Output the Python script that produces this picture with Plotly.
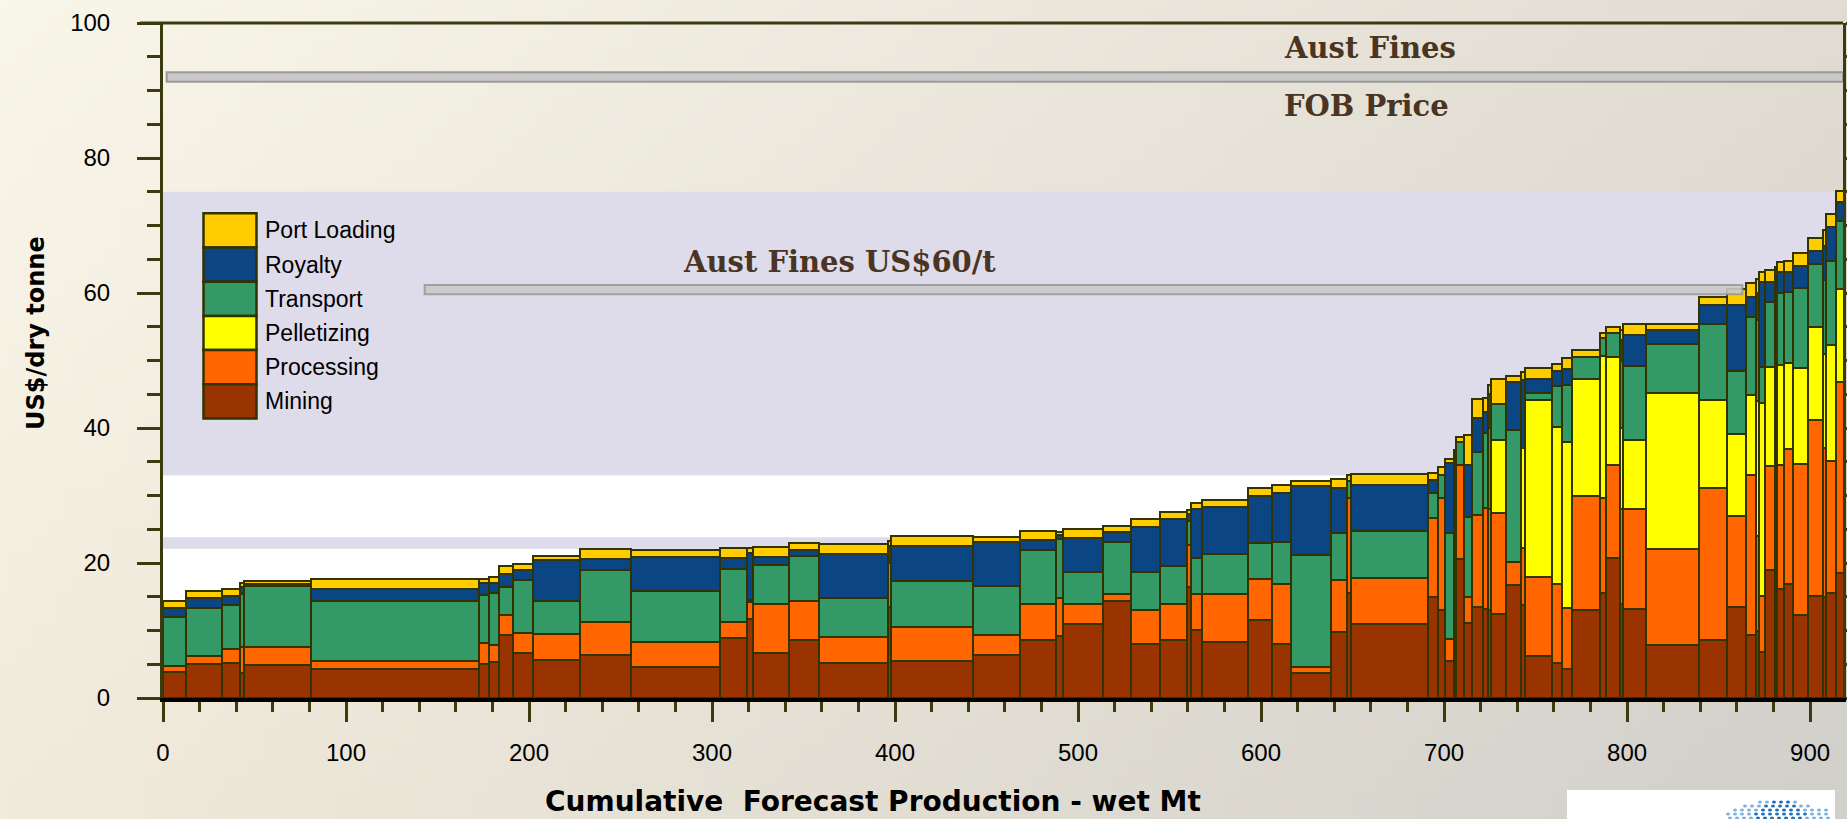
import base64
import struct
import zlib

import numpy as np
import plotly.graph_objects as go

# ---------------- data ----------------
production = [12.7, 19.5, 9.6, 2.6, 36.7, 91.4, 5.5, 5.4, 7.6, 11.2,
              25.4, 27.9, 49.1, 14.6, 3.1, 19.6, 16.5, 37.7, 1.9, 44.7,
              25.4, 20.0, 3.6, 21.9, 15.1, 15.9, 15.1, 2.2, 6.0, 24.9,
              13.4, 10.0, 21.8, 9.2, 1.8, 42.3, 5.2, 3.8, 5.1, 1.4,
              4.0, 4.6, 6.0, 2.5, 1.5, 8.2, 8.2, 2.7, 14.6, 5.5,
              5.4, 15.0, 3.6, 7.8, 1.5, 12.2, 29.1, 15.5, 10.4, 5.1,
              1.8, 3.3, 5.3, 1.4, 3.7, 4.9, 8.2, 8.4, 1.6, 5.5, 4.2]

mining = [3.8, 5.0, 5.2, 3.75, 4.9, 4.25, 5.0, 5.4, 9.3, 6.7,
          5.6, 6.4, 4.55, 8.85, 11.65, 6.7, 8.6, 5.2, 13.5, 5.5,
          6.3, 8.6, 9.2, 10.9, 14.3, 7.95, 8.6, 16.5, 10.1, 8.35,
          11.55, 7.95, 3.65, 9.75, 15.5, 10.9, 14.9, 13.0, 5.5, 20.0,
          20.55, 11.15, 13.53, 13.14, 13.0, 12.44, 16.74, 13.8, 6.23, 5.14,
          4.25, 13.04, 15.5, 20.7, 14.0, 13.25, 7.79, 8.57, 13.51, 9.35,
          10.0, 6.75, 18.97, 10.0, 16.11, 16.89, 12.3, 15.17, 15.0, 15.59, 18.45]

processing = [1.0, 1.2, 2.0, 3.85, 2.7, 1.25, 3.2, 2.4, 3.0, 3.0,
              3.9, 4.9, 3.7, 2.45, 2.6, 7.2, 5.8, 3.8, 6.5, 5.0,
              3.05, 5.4, 5.6, 3.1, 1.1, 5.15, 5.4, 6.2, 5.3, 7.0,
              6.05, 8.95, 0.9, 7.75, 14.1, 6.9, 11.7, 16.7, 3.2, 14.0,
              13.95, 3.85, 13.57, 14.96, 15.0, 14.93, 3.46, 8.4, 11.76, 11.76,
              9.14, 16.84, 14.1, 13.8, 14.0, 14.81, 14.3, 22.61, 13.51, 23.65,
              14.0, 8.32, 15.33, 20.0, 18.45, 20.01, 22.36, 25.99, 22.0, 19.49, 28.33]

pelletizing = [None] * 45 + [10.83, None, 14.8, 26.16, 23.2,
                             24.6, 17.32, 21.07, 16.07, 12.0, 10.14, 23.11, 12.99, 12.11, 11.96,
                             20.0, 28.59, 14.71, 18.0, 14.81, 12.73, 14.2, 13.77, 14.0, 17.15, 13.77]

transport = [7.2, 7.2, 6.6, 7.8, 9.0, 8.9, 7.1, 7.8, 4.2, 7.8,
             4.9, 7.65, 7.6, 7.8, 0.25, 5.8, 6.6, 5.8, None, 6.85,
             7.3, 7.9, 8.8, 4.6, 7.75, 5.6, 5.6, 3.5, 5.35, 6.05,
             5.4, 6.25, 16.65, 6.9, 2.5, 7.0, 3.7, 3.3, 15.8, 2.0,
             3.5, 11.86, 9.4, 11.1, 12.0, 5.35, 19.5, None, 0.99, 6.1,
             8.39, 3.27, 2.61, 3.45, 10.0, 11.02, 7.19, 11.18, 9.36, 11.43,
             12.0, 5.44, 9.72, 10.0, 10.66, 10.5, 11.95, 9.36, 11.0, 12.58, 10.13]

royalty = [1.4, 1.4, 1.35, 1.0, 0.25, 1.7, 1.7, 1.5, 1.9, 1.5,
           6.0, 1.6, 5.05, 1.7, 7.0, 1.15, 1.0, 6.5, 2.5, 5.2,
           6.5, 1.5, 0.5, 5.1, 1.5, 6.6, 6.9, 1.0, 7.25, 6.85,
           6.9, 7.25, 10.2, 6.75, None, 6.75, 2.0, 0.1, 10.27, None,
           None, 7.64, 4.94, 3.2, 5.0, None, 7.16, 10.1, 2.06, 2.3,
           2.32, None, None, None, 3.0, 4.57, 2.18, 2.86, 9.72, 3.0,
           4.0, 12.6, 2.97, 4.0, 3.01, 3.02, 3.12, 1.98, 5.0, 4.99, 2.76]

port_loading = [0.9, 1.0, 0.95, 0.6, 0.45, 1.6, 0.6, 0.9, 1.1, 0.9,
                0.6, 1.5, 1.1, 1.4, 0.7, 1.55, 0.9, 1.5, 0.8, 1.5,
                0.75, 1.4, 0.5, 1.4, 0.9, 1.2, 1.0, 0.7, 0.9, 1.05,
                1.15, 1.15, 0.75, 1.25, 0.9, 1.6, 1.1, 1.05, 0.58, 0.7,
                0.7, 4.46, 2.81, 2.0, 1.4, 3.65, 0.89, 1.25, 1.64, 0.93,
                1.63, 1.09, 0.84, 1.0, 1.5, 1.56, 0.78, 1.19, 2.4, 2.1,
                2.1, 1.45, 1.71, 1.9, 1.56, 1.66, 2.07, 1.82, 2.4, 1.92, 1.66]

series_names = ["Mining", "Processing", "Pelletizing", "Transport", "Royalty", "Port Loading"]
series_colors = ["#993300", "#FF6600", "#FFFF00", "#339966", "#0B4584", "#FFCC00"]

x_tick_values = list(range(0, 1000, 100))
y_tick_values = list(range(0, 120, 20))

fob_price = 92.0          # Aust Fines FOB price line
fines_price = 60.5        # Aust Fines US$60/t line
band_upper = (33.0, 75.0)
band_lower = (22.1, 23.8)
x_max = 918.0

# ---------------- helpers ----------------
W, H = 1847, 819
L, R, T, B = 163, 1843, 23, 698


def px(X):
    return (X - L) / (R - L)


def py(Y):
    return (B - Y) / (B - T)


def gradient_png(w, h, tl, tr, bl, br):
    tl, tr, bl, br = [np.array(c, dtype=float) for c in (tl, tr, bl, br)]
    u = np.linspace(0, 1, w)[None, :, None]
    v = np.linspace(0, 1, h)[:, None, None]
    img = (tl * (1 - u) * (1 - v) + tr * u * (1 - v) + bl * (1 - u) * v + br * u * v)
    img = np.clip(img, 0, 255).astype(np.uint8)
    raw = b"".join(b"\x00" + img[j].tobytes() for j in range(h))

    def chunk(tag, data):
        c = struct.pack(">I", len(data)) + tag + data
        return c + struct.pack(">I", zlib.crc32(tag + data) & 0xffffffff)

    png = b"\x89PNG\r\n\x1a\n"
    png += chunk(b"IHDR", struct.pack(">IIBBBBB", w, h, 8, 2, 0, 0, 0))
    png += chunk(b"IDAT", zlib.compress(raw, 9))
    png += chunk(b"IEND", b"")
    return "data:image/png;base64," + base64.b64encode(png).decode()


# ---------------- bars ----------------
edges = np.concatenate([[0.0], np.cumsum(production)])
centers = (edges[:-1] + edges[1:]) / 2.0
widths = np.array(production)

series_values = [mining, processing, pelletizing, transport, royalty, port_loading]

fig = go.Figure()
for name, vals, color in zip(series_names, series_values, series_colors):
    fig.add_trace(go.Bar(
        x=centers, y=vals, width=widths, name=name,
        marker=dict(color=color, line=dict(color="#333300", width=2.5)),
        showlegend=False,
    ))

# ---------------- shapes ----------------
shapes = []
shapes.append(dict(type="rect", xref="x", yref="y", x0=0, x1=x_max, y0=0, y1=band_upper[0],
                   fillcolor="white", line=dict(width=0), layer="below"))
shapes.append(dict(type="rect", xref="x", yref="y", x0=0, x1=x_max, y0=band_upper[0], y1=band_upper[1],
                   fillcolor="#DEDBEA", line=dict(width=0), layer="below"))
shapes.append(dict(type="rect", xref="x", yref="y", x0=0, x1=x_max, y0=band_lower[0], y1=band_lower[1],
                   fillcolor="#DEDBEA", line=dict(width=0), layer="below"))
shapes.append(dict(type="rect", xref="x", yref="y", x0=2, x1=x_max, y0=fob_price - 0.7, y1=fob_price + 0.7,
                   fillcolor="#C9C9C9", line=dict(color="#9A9A9A", width=2), layer="above"))
shapes.append(dict(type="rect", xref="x", yref="y", x0=143, x1=863, y0=fines_price - 0.7, y1=fines_price + 0.7,
                   fillcolor="#C9C9C9", line=dict(color="#9A9A9A", width=2), layer="above", opacity=0.9))
shapes.append(dict(type="line", xref="paper", yref="paper", x0=px(140), x1=1, y0=1, y1=1,
                   line=dict(color="#3B3B10", width=3)))

legend_top = 213.3
row_h = 34.2
for i, (name, color) in enumerate(zip(series_names[::-1], series_colors[::-1])):
    y0 = legend_top + i * row_h
    shapes.append(dict(type="rect", xref="paper", yref="paper",
                       x0=px(203.5), x1=px(256.5), y0=py(y0 + row_h), y1=py(y0),
                       fillcolor=color, line=dict(color="#333300", width=2.5)))

shapes.append(dict(type="rect", xref="paper", yref="paper", x0=px(1567), x1=px(1835), y0=py(830), y1=py(790),
                   fillcolor="white", line=dict(width=0)))
dot_rows = [(802, 1760, 1800), (806, 1745, 1815), (810, 1735, 1828), (814, 1728, 1832), (818, 1730, 1830)]
for (yy, xa, xb) in dot_rows:
    for xx in np.arange(xa, xb, 7):
        col = "#1F6FBF" if abs(xx - (xa + xb) / 2) < (xb - xa) / 4 else "#7FB2E0"
        shapes.append(dict(type="circle", xref="paper", yref="paper",
                           x0=px(xx - 2), x1=px(xx + 2), y0=py(yy + 1.5), y1=py(yy - 1.5),
                           fillcolor=col, line=dict(width=0)))

# ---------------- annotations ----------------
ann = []
serif = dict(family="DejaVu Serif", size=29, color="#4A3422")
ann.append(dict(xref="paper", yref="paper", x=px(1282), y=py(48), xanchor="left", yanchor="middle",
                text="<b>Aust Fines</b>", showarrow=False, font=serif))
ann.append(dict(xref="paper", yref="paper", x=px(1282), y=py(106), xanchor="left", yanchor="middle",
                text="<b>FOB Price</b>", showarrow=False, font=serif))
ann.append(dict(xref="paper", yref="paper", x=px(681), y=py(262), xanchor="left", yanchor="middle",
                text="<b>Aust Fines US$60/t</b>", showarrow=False, font=serif))

for i, name in enumerate(series_names[::-1]):
    yc = legend_top + i * row_h + row_h / 2
    ann.append(dict(xref="paper", yref="paper", x=px(263), y=py(yc), xanchor="left", yanchor="middle",
                    text=name, showarrow=False,
                    font=dict(family="Liberation Sans", size=23, color="black")))

ann.append(dict(xref="paper", yref="paper", x=px(36), y=py(333), xanchor="center", yanchor="middle",
                text="<b>US$/dry tonne</b>", textangle=-90, showarrow=False,
                font=dict(family="DejaVu Sans", size=24, color="black")))
ann.append(dict(xref="paper", yref="paper", x=px(873), y=py(801), xanchor="center", yanchor="middle",
                text="<b>Cumulative  Forecast Production - wet Mt</b>", showarrow=False,
                font=dict(family="DejaVu Sans", size=28, color="black")))

bg = gradient_png(96, 48, (249, 246, 234), (226, 221, 210), (241, 235, 219), (210, 208, 203))

fig.update_layout(
    width=W, height=H,
    margin=dict(l=L, r=W - R, t=T, b=H - B, pad=0, autoexpand=False),
    barmode="stack", bargap=0,
    paper_bgcolor="#ECE6D8", plot_bgcolor="rgba(0,0,0,0)",
    showlegend=False,
    shapes=shapes, annotations=ann,
    images=[dict(source=bg, xref="paper", yref="paper", x=-L / (R - L), y=1 + T / (B - T),
                 sizex=W / (R - L), sizey=H / (B - T), sizing="stretch", layer="below",
                 xanchor="left", yanchor="top")],
    font=dict(family="Liberation Sans", color="black"),
)

fig.update_xaxes(
    range=[0, x_max], tickvals=x_tick_values, ticks="outside", ticklen=20, tickwidth=3,
    tickcolor="#3B3B10", showline=True, linecolor="black", linewidth=4, showgrid=False,
    zeroline=False, automargin=False, tickfont=dict(family="Liberation Sans", size=24, color="black"),
    ticklabelstandoff=10,
    minor=dict(dtick=20, tick0=0, ticks="outside", ticklen=10, tickwidth=3, tickcolor="#3B3B10", showgrid=False),
)
fig.update_yaxes(
    range=[0, 100], tickvals=y_tick_values, ticks="outside", ticklen=23, tickwidth=3,
    tickcolor="#3B3B10", showline=True, linecolor="#3B3B10", linewidth=3, showgrid=False,
    zeroline=False, automargin=False, mirror="allticks",
    tickfont=dict(family="Liberation Sans", size=24, color="black"),
    ticklabelstandoff=22,
    minor=dict(dtick=5, tick0=0, ticks="outside", ticklen=13, tickwidth=3, tickcolor="#3B3B10", showgrid=False),
)

fig.write_html("out.html", config={"displayModeBar": False},
               post_script="document.body.style.margin='0';")
